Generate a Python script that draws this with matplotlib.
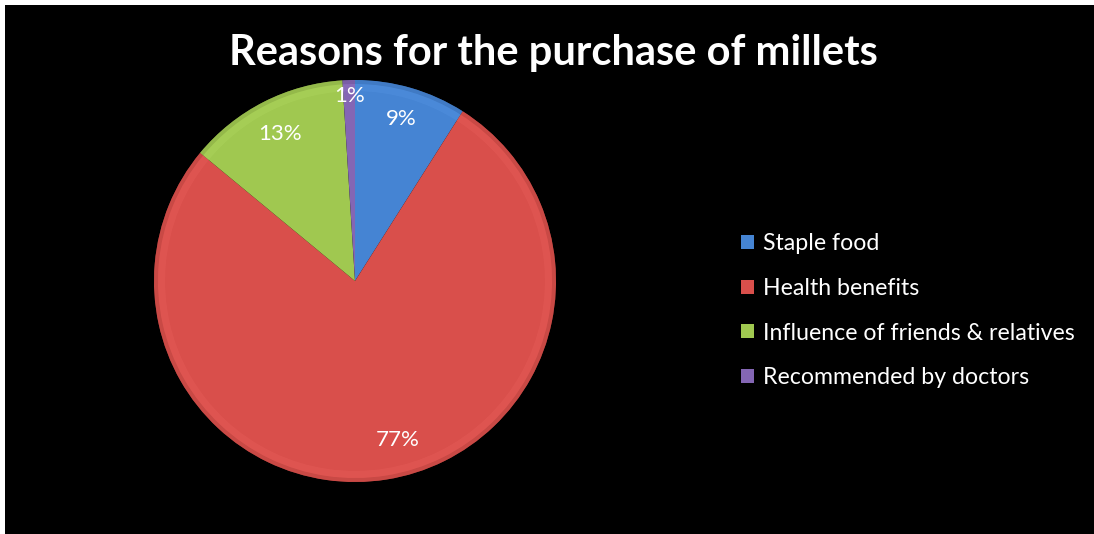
import matplotlib
matplotlib.use("Agg")
import matplotlib.pyplot as plt
from matplotlib.patches import Rectangle, Wedge
import numpy as np

title = "Reasons for the purchase of millets"
categories = ["Staple food", "Health benefits", "Influence of friends & relatives", "Recommended by doctors"]
values = [9, 77, 13, 1]
colors = ["#4584D3", "#D94F4B", "#A0C850", "#8466B4"]

W, H = 1094, 534
fig = plt.figure(figsize=(W / 100, H / 100), dpi=100, facecolor="white")
fig.patches.append(Rectangle((5 / W, 0), 1, (H - 5) / H, transform=fig.transFigure,
                             facecolor="black", edgecolor="none", zorder=-10))

cx, cy, R = 355, 281, 201
half = 215
ax = fig.add_axes([(cx - half) / W, (H - cy - half) / H, 2 * half / W, 2 * half / H])
ax.set_facecolor("none")

wedges, texts, autotexts = ax.pie(
    values, colors=colors, startangle=90, counterclock=False,
    autopct=lambda p: f"{p:.0f}%", pctdistance=0.82,
    wedgeprops=dict(linewidth=0.8, edgecolor="none"),
    textprops=dict(color="white", fontsize=16, family="Lato"))

lim = half / R
ax.set_xlim(-lim, lim)
ax.set_ylim(-lim, lim)
ax.set_aspect("equal")
ax.axis("off")

# subtle bevel: darker rim and light seams
for w, c in zip(wedges, colors):
    rgb = np.array(matplotlib.colors.to_rgb(c))
    dark = np.clip(rgb * 0.88, 0, 1)
    light = np.clip(rgb + 0.06, 0, 1)
    ax.add_patch(Wedge((0, 0), 1.0, w.theta1, w.theta2, width=0.02,
                       facecolor=dark, edgecolor="none", alpha=0.6, zorder=1.5))
    ax.add_patch(Wedge((0, 0), 0.98, w.theta1, w.theta2, width=0.035,
                       facecolor=light, edgecolor="none", alpha=0.4, zorder=1.5))
for t in autotexts:
    t.set_zorder(5)

# label placement nudges (Excel best-fit style)
x0, y0 = autotexts[0].get_position()
autotexts[0].set_position((x0, y0 + 0.02))
x1, y1 = autotexts[1].get_position()
autotexts[1].set_position((x1 + 0.085, y1 + 0.02))
x3, y3 = autotexts[3].get_position()
autotexts[3].set_position((x3, y3 + 0.1))

fig.text(553 / W, 1 - 53 / H, title, ha="center", va="center", color="white",
         fontsize=30, fontweight="bold", family="Lato")

leg = fig.legend(wedges, categories, loc="upper left",
                 bbox_to_anchor=(732 / W, 1 - 224 / H), frameon=False,
                 fontsize=16.7, labelcolor="white", handlelength=0.55, handleheight=0.55,
                 handletextpad=0.4, labelspacing=1.02, borderaxespad=0)
for t in leg.get_texts():
    t.set_family("Lato")

fig.savefig("out.png", dpi=100, facecolor=fig.get_facecolor())
